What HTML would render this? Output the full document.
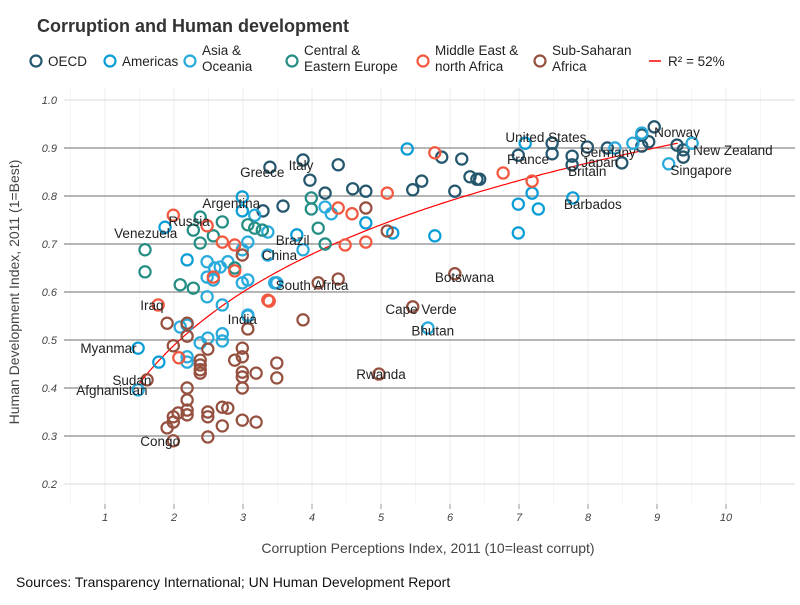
<!DOCTYPE html>
<html><head><meta charset="utf-8"><style>
body{margin:0;background:#fff;font-family:"Liberation Sans",sans-serif;}
svg text{font-family:"Liberation Sans",sans-serif;}
</style></head><body>
<svg width="800" height="600" viewBox="0 0 800 600" xmlns="http://www.w3.org/2000/svg">
<rect width="800" height="600" fill="#fff"/>
<text x="37" y="32" font-size="18" font-weight="bold" fill="#333">Corruption and Human development</text>
<g id="legend"></g>
<g id="grid"></g>
<g id="axes"></g>
<g id="trend"></g>
<g id="points"></g>
<g id="labels"></g>
<text x="428" y="553" font-size="14" fill="#444" text-anchor="middle">Corruption Perceptions Index, 2011 (10=least corrupt)</text>
<text transform="translate(19,292) rotate(-90)" font-size="14" fill="#444" text-anchor="middle">Human Development Index, 2011 (1=Best)</text>
<text x="16" y="587" font-size="14" fill="#111">Sources: Transparency International; UN Human Development Report</text>
</svg>
<script>
const xTicks=[1,2,3,4,5,6,7,8,9,10];
const yTicks=[0.2,0.3,0.4,0.5,0.6,0.7,0.8,0.9,1.0];
const regionNames=["OECD","Americas","Asia &\nOceania","Central &\nEastern Europe","Middle East &\nnorth Africa","Sub-Saharan\nAfrica"];
const regionColors=["#24576D","#099DD7","#28AADC","#248E84","#F2583F","#96503F"];
const cpi=[8.96,8.78,8.88,8.78,9.29,9.38,9.38,8.49,8.28,7.99,7.77,7.77,7.48,7.48,6.99,6.43,5.88,6.17,6.29,6.39,5.59,5.46,6.07,3.39,3.87,4.38,3.97,4.19,4.59,4.78,3.58,3.29,
7.09,7.78,6.99,7.19,7.28,6.99,5.38,5.17,5.78,4.78,2.99,2.99,3.78,2.19,1.48,1.78,1.87,
8.78,8.65,9.17,8.39,9.51,5.68,3.07,2.70,2.70,2.49,2.38,2.19,2.19,1.48,2.09,2.19,3.17,3.36,3.07,3.36,2.99,2.48,2.78,2.67,2.59,2.48,2.57,2.99,3.07,2.48,2.70,3.49,4.19,4.28,3.87,3.46,3.07,
3.99,3.99,4.09,4.19,2.38,2.28,2.70,3.07,3.17,3.28,2.57,2.38,1.58,1.58,2.88,2.09,2.28,
6.77,7.19,5.78,5.09,4.38,4.58,4.48,4.78,3.38,1.99,2.48,2.70,2.88,2.88,2.57,1.77,3.36,2.07,
6.07,5.46,4.78,5.09,4.09,4.38,3.87,3.07,2.99,1.90,2.19,2.19,2.49,1.99,2.99,2.99,2.88,2.38,2.38,2.38,2.38,3.49,3.49,3.19,2.99,2.99,2.99,1.61,2.19,2.19,2.19,2.19,1.99,2.06,1.90,1.99,2.49,2.49,2.70,2.78,2.70,2.99,3.19,2.49,1.99,4.97];
const hdi=[0.944,0.927,0.913,0.904,0.906,0.896,0.881,0.869,0.9,0.902,0.883,0.865,0.91,0.888,0.885,0.835,0.881,0.877,0.84,0.835,0.831,0.813,0.81,0.86,0.875,0.865,0.833,0.806,0.815,0.81,0.779,0.769,
0.91,0.796,0.783,0.806,0.773,0.723,0.898,0.723,0.717,0.744,0.798,0.769,0.719,0.667,0.483,0.454,0.735,
0.931,0.91,0.867,0.9,0.91,0.525,0.55,0.513,0.498,0.504,0.494,0.465,0.454,0.396,0.527,0.531,0.76,0.725,0.704,0.677,0.688,0.663,0.663,0.652,0.65,0.631,0.625,0.619,0.625,0.59,0.573,0.619,0.777,0.763,0.688,0.619,0.552,
0.796,0.773,0.733,0.7,0.756,0.729,0.746,0.74,0.733,0.729,0.717,0.702,0.688,0.642,0.65,0.615,0.608,
0.848,0.831,0.89,0.806,0.775,0.763,0.698,0.704,0.581,0.76,0.738,0.704,0.698,0.644,0.631,0.573,0.583,0.463,
0.638,0.569,0.775,0.727,0.619,0.627,0.542,0.523,0.677,0.535,0.535,0.508,0.481,0.488,0.483,0.465,0.458,0.458,0.448,0.438,0.431,0.452,0.421,0.431,0.433,0.423,0.4,0.417,0.4,0.375,0.354,0.344,0.34,0.348,0.317,0.329,0.35,0.34,0.36,0.358,0.321,0.333,0.329,0.298,0.29,0.429];
const region=[0,0,0,0,0,0,0,0,0,0,0,0,0,0,0,0,0,0,0,0,0,0,0,0,0,0,0,0,0,0,0,0,
1,1,1,1,1,1,1,1,1,1,1,1,1,1,1,1,1,
2,2,2,2,2,2,2,2,2,2,2,2,2,2,2,2,2,2,2,2,2,2,2,2,2,2,2,2,2,2,2,2,2,2,2,2,2,
3,3,3,3,3,3,3,3,3,3,3,3,3,3,3,3,3,
4,4,4,4,4,4,4,4,4,4,4,4,4,4,4,4,4,4,
5,5,5,5,5,5,5,5,5,5,5,5,5,5,5,5,5,5,5,5,5,5,5,5,5,5,5,5,5,5,5,5,5,5,5,5,5,5,5,5,5,5,5,5,5,5];
const labelNames=["Congo","Sudan","Afghanistan","Myanmar","Iraq","Venezuela","Russia","Argentina","Brazil","China","India","South Africa","Greece","Italy","Rwanda","Cape Verde","Bhutan","Botswana","United States","France","Germany","Japan","Britain","Barbados","Norway","New Zealand","Singapore"];
const labelCpi=[1.80,1.39,1.10,1.05,1.68,1.59,2.22,2.83,3.72,3.53,2.99,4.00,3.28,3.84,5.00,5.58,5.75,6.21,7.39,7.13,8.29,8.17,7.99,8.07,9.29,10.10,9.64];
const labelHdi=[0.29,0.417,0.396,0.483,0.573,0.723,0.748,0.785,0.708,0.677,0.544,0.615,0.85,0.865,0.429,0.565,0.52,0.631,0.923,0.877,0.892,0.871,0.852,0.783,0.933,0.896,0.854];
const r2Text="R² = 52%";
const fitA=0.299, fitB=0.274;

const NS="http://www.w3.org/2000/svg";
const xS=v=>36+69*v;
const yS=v=>580-480*v;
function mk(tag,attrs,parent){const e=document.createElementNS(NS,tag);for(const k in attrs)e.setAttribute(k,attrs[k]);parent.appendChild(e);return e;}

const grid=document.getElementById('grid');
for(let v=0.5;v<=10.6;v+=0.5){const l=mk('line',{x1:xS(v),x2:xS(v),y1:88,y2:504,stroke:v%1===0?'#ececec':'#f5f5f5','stroke-width':1},grid);

}
for(let i=0;i<yTicks.length;i++){const v=yTicks[i];const major=(v>0.25&&v<0.95);
const l=mk('line',{x1:64,x2:795,y1:yS(v),y2:yS(v),stroke:major?'#8a8a8a':'#d9d9d9','stroke-width':major?1.3:1},grid);


const t=mk('text',{x:57,y:yS(v)+4,'font-size':11,fill:'#444','text-anchor':'end','font-style':'italic'},grid);
t.textContent=v.toFixed(1);

}
const axes=document.getElementById('axes');
for(const v of xTicks){const l=mk('line',{x1:xS(v),x2:xS(v),y1:504,y2:509,stroke:'#999'},axes);


const t=mk('text',{x:xS(v),y:521,'font-size':11,fill:'#444','text-anchor':'middle','font-style':'italic'},axes);
t.textContent=v;

}

let d="";for(let x=1.5;x<=9.31;x+=0.05){d+=(d?"L":"M")+xS(x).toFixed(1)+","+yS(fitA+fitB*Math.log(x)).toFixed(1);}
const tl=mk('path',{d:d,fill:'none',stroke:'#ff0000','stroke-width':1.2},document.getElementById('trend'));



const pts=document.getElementById('points');
for(let i=0;i<cpi.length;i++){const c=mk('circle',{cx:xS(cpi[i]),cy:yS(hdi[i]),r:5.6,fill:'none',stroke:regionColors[region[i]],'stroke-width':2.2},pts);

}

const lab=document.getElementById('labels');
for(let i=0;i<labelNames.length;i++){const t=mk('text',{x:xS(labelCpi[i]),y:yS(labelHdi[i])+5,'font-size':13.5,fill:'#222','text-anchor':'middle'},lab);
t.textContent=labelNames[i];

}

const leg=document.getElementById('legend');
const legX=[36,110,190,292,423,540];
for(let i=0;i<regionNames.length;i++){const lines=regionNames[i].split("\n");
const c=mk('circle',{cx:legX[i],cy:61,r:5.5,fill:'none',stroke:regionColors[i],'stroke-width':2.2},leg);


const t=mk('text',{x:legX[i]+12,'font-size':13.5,fill:'#222'},leg);


lines.forEach((s,j)=>{const sp=mk('tspan',{x:legX[i]+12,y:lines.length===1?66:(58+16*j)-3},t);sp.textContent=s;});}
const ll=mk('line',{x1:649,x2:661,y1:61,y2:61,stroke:'#ff0000','stroke-width':1.5},leg);


const lt=mk('text',{x:668,y:66,'font-size':13.5,fill:'#222'},leg);
lt.textContent=r2Text;


</script>
</body></html>
